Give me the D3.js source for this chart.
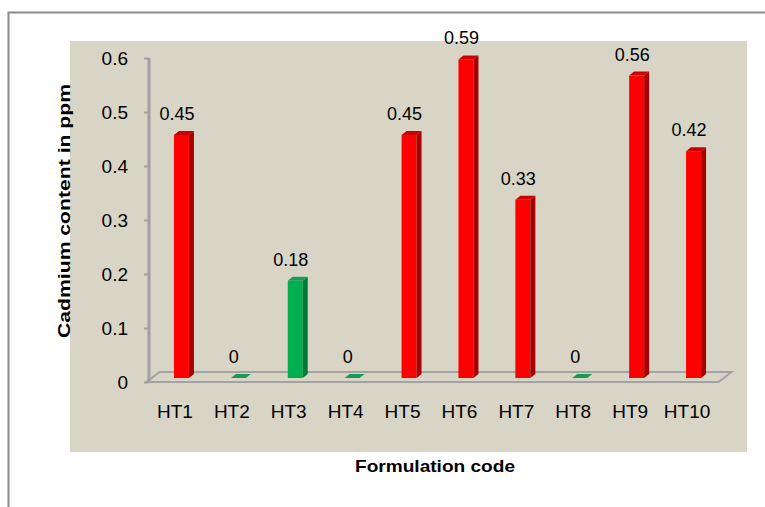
<!DOCTYPE html>
<html>
<head>
<meta charset="utf-8">
<script src="https://cdn.jsdelivr.net/npm/d3@7"></script>
<style>
  body { margin: 0; background: #fff; }
  text { font-family: "Liberation Sans", Arial, sans-serif; fill: #000; }
</style>
</head>
<body>
<svg id="chart" width="765" height="507"></svg>
<script>
// data
var codes = ["HT1","HT2","HT3","HT4","HT5","HT6","HT7","HT8","HT9","HT10"];
var cadmium = [0.45, 0, 0.18, 0, 0.45, 0.59, 0.33, 0, 0.56, 0.42];
var yTicks = [0, 0.1, 0.2, 0.3, 0.4, 0.5, 0.6];
var limit = 0.3; // bars under this are green

var svg = d3.select("#chart");

// outer frame + plot background
svg.append("rect")
  .attr("x", 8.5).attr("y", 12.5)
  .attr("width", 800).attr("height", 520)
  .attr("fill", "#fff").attr("stroke", "#8c8c8c").attr("stroke-width", 2);
svg.append("rect")
  .attr("x", 70).attr("y", 41)
  .attr("width", 677).attr("height", 411)
  .attr("fill", "#d9d5c6");

var x = d3.scaleBand()
  .domain(codes)
  .range([146.5, 715.5]);

var y = d3.scaleLinear()
  .domain([0, 0.6])
  .range([382, 58]);

// depth of the 3d floor
var depthX = 13, depthY = -10;

// floor
var floor = svg.append("g").attr("fill", "none").attr("stroke", "#a3a3a3").attr("stroke-width", 2);
floor.append("path")
  .attr("d", "M" + x.range()[0] + "," + y(0) + "L" + (x.range()[1] + 3) + "," + y(0) +
    "L" + (x.range()[1] + 3 + depthX) + "," + (y(0) + depthY) +
    "L" + (x.range()[0] + depthX) + "," + (y(0) + depthY) + "Z");

// y axis
var yAxis = d3.axisLeft(y)
  .tickValues(yTicks)
  .tickSize(5)
  .tickPadding(16)
  .tickFormat(function(d){ return d === 0 ? "0" : d3.format(".1f")(d); });

var gy = svg.append("g")
  .attr("transform", "translate(149,0)")
  .call(yAxis);
gy.select(".domain").attr("stroke", "#a0a0a0").attr("stroke-width", 3)
  .attr("d", "M0," + y(0.6) + "V" + (y(0) + 1));
gy.selectAll(".tick line").attr("stroke", "#a0a0a0").attr("stroke-width", 2);
gy.selectAll(".tick text")
  .style("font-size", "19px")
  .attr("font-family", "Liberation Sans, Arial, sans-serif");

// bars
var bw = 15, sideW = 5, sideH = -4, offX = -1, offY = -4;
var colors = {
  red:   { front: "#ff0000", side: "#a80000", top: "#cc0000" },
  green: { front: "#00b050", side: "#007a38", top: "#1a9a55" }
};

var bars = svg.append("g").selectAll("g")
  .data(codes)
  .enter().append("g");

bars.each(function(code, i) {
  var v = cadmium[i];
  var c = v < limit ? colors.green : colors.red;
  var x0 = x(code) + x.bandwidth() / 2 + offX;
  var yb = y(0) + offY;
  var yt = y(v) + offY;
  var g = d3.select(this);
  if (v > 0) {
    g.append("rect")
      .attr("x", x0).attr("y", yt)
      .attr("width", bw).attr("height", yb - yt)
      .attr("fill", c.front);
    g.append("path")
      .attr("d", "M" + (x0 + bw) + "," + yt + "L" + (x0 + bw + sideW) + "," + (yt + sideH) +
        "L" + (x0 + bw + sideW) + "," + (yb + sideH) + "L" + (x0 + bw) + "," + yb + "Z")
      .attr("fill", c.side);
  }
  g.append("path")
    .attr("d", "M" + x0 + "," + yt + "L" + (x0 + bw) + "," + yt +
      "L" + (x0 + bw + sideW) + "," + (yt + sideH) + "L" + (x0 + sideW) + "," + (yt + sideH) + "Z")
    .attr("fill", c.top);
});

// value labels
svg.append("g").selectAll("text")
  .data(codes)
  .enter().append("text")
  .attr("x", function(d){ return x(d) + x.bandwidth() / 2 + 2; })
  .attr("y", function(d, i){ return y(cadmium[i]) - 19; })
  .attr("text-anchor", "middle")
  .style("font-size", "18px")
  .text(function(d, i){ return cadmium[i]; });

// category labels
svg.append("g").selectAll("text")
  .data(codes)
  .enter().append("text")
  .attr("x", function(d){ return x(d) + x.bandwidth() / 2; })
  .attr("y", 418)
  .attr("text-anchor", "middle")
  .style("font-size", "19px")
  .text(function(d){ return d; });

// axis titles
svg.append("text")
  .attr("transform", "translate(70,211) rotate(-90)")
  .attr("text-anchor", "middle")
  .attr("textLength", 254)
  .attr("lengthAdjust", "spacingAndGlyphs")
  .style("font-size", "17px")
  .style("font-weight", "bold")
  .text("Cadmium content in ppm");

svg.append("text")
  .attr("x", 435).attr("y", 472)
  .attr("text-anchor", "middle")
  .attr("textLength", 160)
  .attr("lengthAdjust", "spacingAndGlyphs")
  .style("font-size", "17px")
  .style("font-weight", "bold")
  .text("Formulation code");
</script>
</body>
</html>
